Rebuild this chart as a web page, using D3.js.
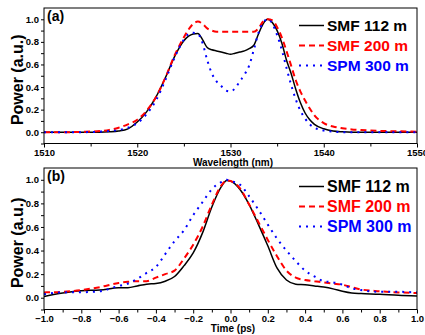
<!DOCTYPE html>
<html>
<head>
<meta charset="utf-8">
<script src="https://cdn.jsdelivr.net/npm/d3@7"></script>
<style>
  body { margin: 0; background: #fff; }
  svg text { font-family: "Liberation Sans", Arial, sans-serif; font-weight: bold; }
</style>
</head>
<body>
<div id="chart"></div>
<script>
// panel (a): spectrum vs wavelength
const wavelength = [1510, 1512, 1514, 1516, 1517, 1518, 1519, 1520, 1521, 1522, 1523, 1524, 1525, 1525.5,
  1526, 1526.5, 1527, 1527.5, 1528, 1528.5, 1529, 1529.5, 1530, 1530.5, 1531, 1531.5, 1532, 1532.5,
  1533, 1533.5, 1534, 1534.5, 1535, 1535.5, 1536, 1536.5, 1537, 1537.5, 1538, 1538.5, 1539, 1540,
  1541, 1542, 1543, 1544, 1546, 1548, 1550];
const specSmf112 = [0, 0, 0, 0, 0.003, 0.01, 0.03, 0.09, 0.18, 0.31, 0.48, 0.67, 0.81, 0.85,
  0.87, 0.875, 0.82, 0.75, 0.73, 0.72, 0.71, 0.70, 0.69, 0.70, 0.71, 0.72, 0.74, 0.77,
  0.87, 0.96, 1.0, 0.97, 0.90, 0.79, 0.64, 0.52, 0.38, 0.26, 0.17, 0.11, 0.07, 0.03,
  0.01, 0.003, 0, 0, 0, 0, 0];
const specSmf200 = [0, 0, 0.003, 0.01, 0.02, 0.04, 0.07, 0.11, 0.19, 0.31, 0.48, 0.68, 0.84, 0.91,
  0.96, 0.98, 0.96, 0.92, 0.90, 0.89, 0.89, 0.89, 0.89, 0.89, 0.89, 0.89, 0.89, 0.89,
  0.92, 0.98, 1.0, 0.99, 0.93, 0.84, 0.72, 0.59, 0.46, 0.36, 0.28, 0.21, 0.15, 0.08,
  0.05, 0.035, 0.025, 0.02, 0.012, 0.008, 0.005];
const specSpm300 = [0, 0, 0, 0.005, 0.01, 0.02, 0.04, 0.08, 0.16, 0.28, 0.46, 0.66, 0.82, 0.87,
  0.88, 0.87, 0.79, 0.64, 0.52, 0.45, 0.41, 0.37, 0.36, 0.39, 0.45, 0.51, 0.59, 0.73,
  0.88, 0.97, 1.0, 0.96, 0.86, 0.73, 0.57, 0.42, 0.29, 0.19, 0.12, 0.07, 0.04, 0.015,
  0.005, 0, 0, 0, 0, 0, 0];

// panel (b): autocorrelation vs time
const time = [-1, -0.9, -0.8, -0.7, -0.6, -0.55, -0.5, -0.45, -0.4, -0.35, -0.3, -0.25, -0.2, -0.15,
  -0.1, -0.05, -0.02, 0, 0.05, 0.1, 0.15, 0.2, 0.25, 0.3, 0.35, 0.4, 0.45, 0.5, 0.55, 0.6,
  0.65, 0.7, 0.8, 0.9, 1.0];
const acSmf112 = [0.01, 0.04, 0.06, 0.065, 0.085, 0.085, 0.1, 0.115, 0.12, 0.14, 0.18, 0.27, 0.38, 0.55,
  0.77, 0.94, 0.995, 0.99, 0.92, 0.79, 0.62, 0.44, 0.25, 0.15, 0.115, 0.11, 0.1, 0.09, 0.075, 0.055,
  0.04, 0.035, 0.03, 0.02, 0.015];
const acSmf200 = [0.045, 0.05, 0.065, 0.09, 0.125, 0.135, 0.14, 0.14, 0.17, 0.2, 0.23, 0.33, 0.45, 0.6,
  0.79, 0.95, 0.995, 0.99, 0.93, 0.79, 0.64, 0.49, 0.35, 0.23, 0.17, 0.15, 0.14, 0.13, 0.12, 0.11,
  0.09, 0.07, 0.055, 0.045, 0.04];
const acSpm300 = [0.03, 0.045, 0.046, 0.055, 0.1, 0.12, 0.16, 0.21, 0.26, 0.37, 0.48, 0.57, 0.7, 0.81,
  0.92, 0.98, 1.0, 0.99, 0.96, 0.86, 0.745, 0.62, 0.5, 0.4, 0.31, 0.23, 0.18, 0.14, 0.13, 0.11,
  0.08, 0.065, 0.05, 0.05, 0.045];

const legendNames = ["SMF 112 m", "SMF 200 m", "SPM 300 m"];
const colors = ["#000000", "#ff0000", "#0000ff"];
const dashes = [null, "6,4", "2,5"];
const widths = [1.5, 2, 2];

const yTicks = [0, 0.2, 0.4, 0.6, 0.8, 1.0];
const yMinor = [-0.1, 0.1, 0.3, 0.5, 0.7, 0.9];
const wlTicks = [1510, 1520, 1530, 1540, 1550];
const wlMinor = [1515, 1525, 1535, 1545];
const tTicks = [-1.0, -0.8, -0.6, -0.4, -0.2, 0.0, 0.2, 0.4, 0.6, 0.8, 1.0];
const tMinor = [-0.9, -0.7, -0.5, -0.3, -0.1, 0.1, 0.3, 0.5, 0.7, 0.9];

const W = 425, H = 335;
const svg = d3.select("#chart").append("svg")
  .attr("width", W).attr("height", H);

function drawPanel(opt) {
  const x = d3.scaleLinear().domain(opt.xDomain).range([44, 417]);
  const y = d3.scaleLinear().domain([-0.1, 1.1]).range([opt.bottom, opt.top]);
  const g = svg.append("g");

  // minor ticks
  g.append("g")
    .attr("transform", `translate(0,${opt.bottom})`)
    .call(d3.axisBottom(x).tickValues(opt.xMinor).tickSize(3).tickFormat(""))
    .call(a => a.select(".domain").remove());
  g.append("g")
    .attr("transform", "translate(44,0)")
    .call(d3.axisLeft(y).tickValues(yMinor).tickSize(3).tickFormat(""))
    .call(a => a.select(".domain").remove());

  // major ticks + labels
  const xa = g.append("g")
    .attr("transform", `translate(0,${opt.bottom})`)
    .call(d3.axisBottom(x).tickValues(opt.xTicks).tickSize(4).tickPadding(1.5).tickFormat(opt.xFormat));
  xa.select(".domain").remove();
  xa.selectAll("text").style("font-size", "9.5px").attr("fill", "#000");

  const ya = g.append("g")
    .attr("transform", "translate(44,0)")
    .call(d3.axisLeft(y).tickValues(yTicks).tickSize(3).tickPadding(2).tickFormat(d3.format(".1f")));
  ya.select(".domain").remove();
  ya.selectAll("text").style("font-size", "9.5px").attr("fill", "#000");

  // curves
  const line = d3.line()
    .x((d, i) => x(opt.xs[i]))
    .y(d => y(d))
    .curve(d3.curveMonotoneX);
  opt.series.forEach((s, k) => {
    g.append("path")
      .datum(s)
      .attr("fill", "none")
      .attr("stroke", colors[k])
      .attr("stroke-width", widths[k])
      .attr("stroke-dasharray", dashes[k])
      .attr("d", line);
  });

  // frame
  g.append("rect")
    .attr("x", 44).attr("y", opt.top)
    .attr("width", 373).attr("height", opt.bottom - opt.top)
    .attr("fill", "none").attr("stroke", "#000").attr("stroke-width", 1);

  // panel tag
  g.append("text")
    .attr("x", 47).attr("y", opt.top + 13)
    .style("font-size", "14px")
    .text(opt.tag);

  // axis titles
  g.append("text")
    .attr("x", 233).attr("y", opt.bottom + 22)
    .attr("text-anchor", "middle")
    .style("font-size", "10px")
    .text(opt.xTitle);
  g.append("text")
    .attr("transform", `translate(23,${(opt.top + opt.bottom) / 2 + 4}) rotate(-90)`)
    .attr("text-anchor", "middle")
    .style("font-size", "16px")
    .text("Power (a.u.)");

  // legend
  legendNames.forEach((name, k) => {
    const ly = opt.legendY + k * 20;
    g.append("line")
      .attr("x1", 299).attr("x2", 324)
      .attr("y1", ly).attr("y2", ly)
      .attr("stroke", colors[k])
      .attr("stroke-width", widths[k])
      .attr("stroke-dasharray", dashes[k]);
    g.append("text")
      .attr("x", 327).attr("y", ly + 5.5)
      .attr("fill", colors[k])
      .style("font-size", opt.legendSize)
      .text(name);
  });
}

drawPanel({
  xDomain: [1510, 1550], top: 8, bottom: 143.5,
  xs: wavelength, series: [specSmf112, specSmf200, specSpm300],
  xTicks: wlTicks, xMinor: wlMinor, xFormat: d3.format("d"),
  tag: "(a)", xTitle: "Wavelength (nm)", legendY: 25.5, legendSize: "15.5px"
});

drawPanel({
  xDomain: [-1, 1], top: 168, bottom: 309.5,
  xs: time, series: [acSmf112, acSmf200, acSpm300],
  xTicks: tTicks, xMinor: tMinor, xFormat: d3.format(".1f"),
  tag: "(b)", xTitle: "Time (ps)", legendY: 186.5, legendSize: "16px"
});
</script>
</body>
</html>
